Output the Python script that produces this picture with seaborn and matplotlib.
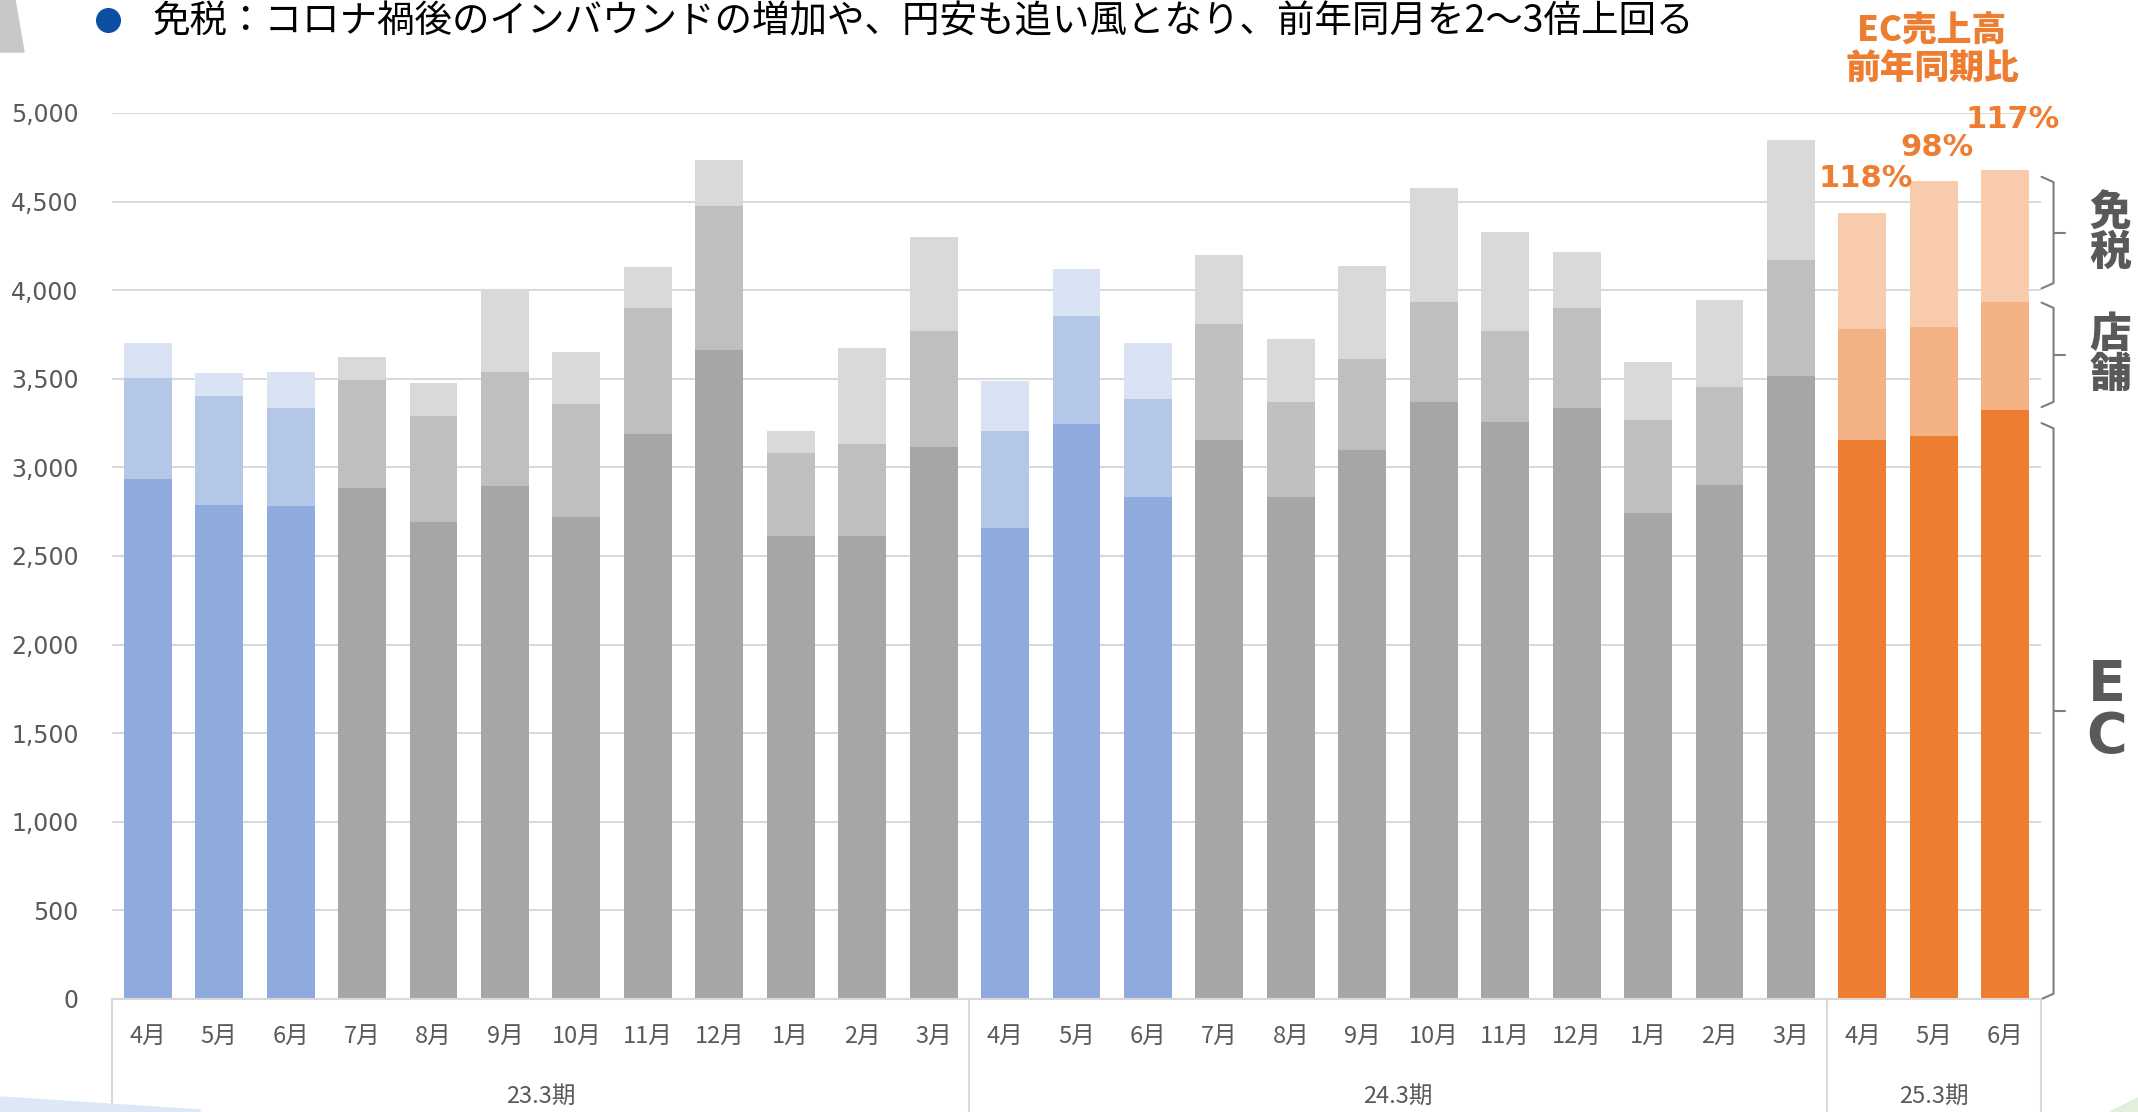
import numpy as np
import pandas as pd
import matplotlib
matplotlib.use('Agg')
import matplotlib.pyplot as plt
import matplotlib.transforms as mtransforms
from matplotlib.patches import Polygon
from matplotlib.lines import Line2D
import seaborn as sns

# データ（単位：読み取り値）
months = ['4月', '5月', '6月', '7月', '8月', '9月', '10月', '11月', '12月', '1月', '2月', '3月',
          '4月', '5月', '6月', '7月', '8月', '9月', '10月', '11月', '12月', '1月', '2月', '3月',
          '4月', '5月', '6月']
ec = [2936, 2789, 2782, 2885, 2693, 2895, 2721, 3190, 3665, 2615, 2615, 3114,
      2659, 3244, 2834, 3152, 2834, 3097, 3367, 3258, 3337, 2745, 2902, 3517,
      3153, 3180, 3326]
store = [568, 616, 555, 609, 599, 644, 636, 711, 811, 469, 516, 657,
         548, 613, 554, 657, 537, 513, 566, 510, 562, 521, 551, 655,
         629, 614, 610]
taxfree = [199, 130, 202, 127, 185, 469, 295, 230, 261, 123, 545, 531,
           280, 263, 315, 387, 356, 524, 644, 558, 314, 326, 494, 674,
           656, 820, 745]
periods = ['23.3期', '24.3期', '25.3期']
period_len = [12, 12, 3]
yoy_labels = ['118%', '98%', '117%']

blue = ['#8FAADC', '#B4C7E7', '#DAE3F3']
gray = ['#A6A6A6', '#BFBFBF', '#D9D9D9']
orange = ['#ED7D31', '#F4B183', '#F8CBAD']
hl_blue = [0, 1, 2, 12, 13, 14]
hl_orange = [24, 25, 26]

df = pd.DataFrame({'idx': np.arange(len(months)), 'ec': ec, 'store': store, 'taxfree': taxfree})
df['ec_store'] = df['ec'] + df['store']
df['total'] = df['ec_store'] + df['taxfree']


def layer_colors(level):
    out = []
    for i in df['idx']:
        if i in hl_blue:
            out.append(blue[level])
        elif i in hl_orange:
            out.append(orange[level])
        else:
            out.append(gray[level])
    return out


sns.set_style('white')
plt.rcParams['font.family'] = ['Noto Sans CJK JP', 'DejaVu Sans']

W, H = 2138, 1112
fig = plt.figure(figsize=(W / 100, H / 100), dpi=100)
ax = fig.add_axes([112 / W, 1 - 999 / H, 1929 / W, 886 / H])

# 積み上げ棒（合計→EC+店舗→ECの順に重ね描き）
for col, level in [('total', 2), ('ec_store', 1), ('ec', 0)]:
    sns.barplot(data=df, x='idx', y=col, hue='idx', palette=layer_colors(level),
                width=0.67, legend=False, ax=ax, linewidth=0, saturation=1)

ax.set_xlim(-0.5, len(months) - 0.5)
ax.set_ylim(0, 5000)
ax.set_yticks(np.arange(0, 5001, 500))
ax.set_yticklabels([f'{v:,}' for v in range(0, 5001, 500)], family='DejaVu Sans')
ax.yaxis.grid(True, color='#D9D9D9', linewidth=1.5)
ax.set_axisbelow(True)
ax.tick_params(axis='y', length=0, pad=24, labelsize=17, labelcolor='#595959')
ax.set_xticks(np.arange(len(months)))
ax.set_xticklabels(months)
ax.tick_params(axis='x', length=0, pad=19, labelsize=17, labelcolor='#595959')
ax.set_xlabel('')
ax.set_ylabel('')
for s in ['top', 'right', 'left']:
    ax.spines[s].set_visible(False)
ax.spines['bottom'].set_color('#D9D9D9')
ax.spines['bottom'].set_linewidth(1.5)

# 期の区切り線とラベル
trans = mtransforms.blended_transform_factory(ax.transData, ax.transAxes)
start = -0.5
seps = [start]
for name, n in zip(periods, period_len):
    ax.text(start + n / 2, -0.11, name, transform=trans, ha='center', va='center',
            fontsize=17, color='#595959')
    start += n
    seps.append(start)
for s in seps:
    ax.plot([s, s], [0, -0.13], transform=trans, color='#D9D9D9', lw=1.5, clip_on=False)

# 前年同期比ラベル
offs = [(0.05, 190), (0.05, 190), (0.1, 285)]
for k, i in enumerate(hl_orange):
    ax.text(i + offs[k][0], df['total'][i] + offs[k][1], yoy_labels[k], ha='center', va='center',
            fontsize=22, fontweight='bold', color='#ED7D31', family='DejaVu Sans', clip_on=False)
fig.text(1932 / W, 1 - 50 / H, 'EC売上高\n前年同期比', ha='center', va='center', fontsize=25,
         fontweight='heavy', color='#ED7D31', linespacing=1.1)

# 右側の括弧と区分ラベル
btrans = mtransforms.blended_transform_factory(ax.transAxes, ax.transData)
braces = [(4640, 4010, '免\n税'), (3930, 3340, '店\n舗'), (3250, 0, 'E\nC')]
for top, bot, lab in braces:
    mid = (top + bot) / 2
    xs = [1.0003, 1.0065, 1.0065, 1.0003]
    ax.plot(xs, [top, top - 30, bot + 30, bot], transform=btrans, color='#7F7F7F', lw=1.5,
            clip_on=False)
    ax.plot([1.0065, 1.0125], [mid, mid], transform=btrans, color='#7F7F7F', lw=1.5,
            clip_on=False)
    if lab == 'E\nC':
        ax.text(1.034, mid, lab, transform=btrans, ha='center', va='center', fontsize=40,
                fontweight='bold', color='#595959', family='DejaVu Sans', linespacing=0.95,
                clip_on=False)
    else:
        ax.text(1.036, mid, lab, transform=btrans, ha='center', va='center', fontsize=30,
                fontweight='heavy', color='#595959', linespacing=0.95, clip_on=False)

# 見出し
fig.add_artist(Line2D([108 / W], [1 - 20 / H], marker='o', markersize=17, color='#0B4EA2',
                      transform=fig.transFigure))
fig.text(153 / W, 1 - 22 / H, '免税：コロナ禍後のインバウンドの増加や、円安も追い風となり、前年同月を2～3倍上回る',
         ha='left', va='center', fontsize=27, color='black')

# スライドの装飾
fig.patches.append(Polygon([(0, 1), (15 / W, 1), (24 / W, 1 - 52 / H), (0, 1 - 52 / H)],
                           closed=True, transform=fig.transFigure, color='#C8C8C8', zorder=0))
fig.patches.append(Polygon([(0, 1 - 1097 / H), (200 / W, 1 - 1110 / H), (200 / W, 0), (0, 0)],
                           closed=True, transform=fig.transFigure, color='#DCE8F5', zorder=0))
fig.patches.append(Polygon([(2110 / W, 0), (W / W, 1 - 1098 / H), (1, 0)],
                           closed=True, transform=fig.transFigure, color='#E2EFDA', zorder=0))

fig.savefig('out.png', dpi=100)
